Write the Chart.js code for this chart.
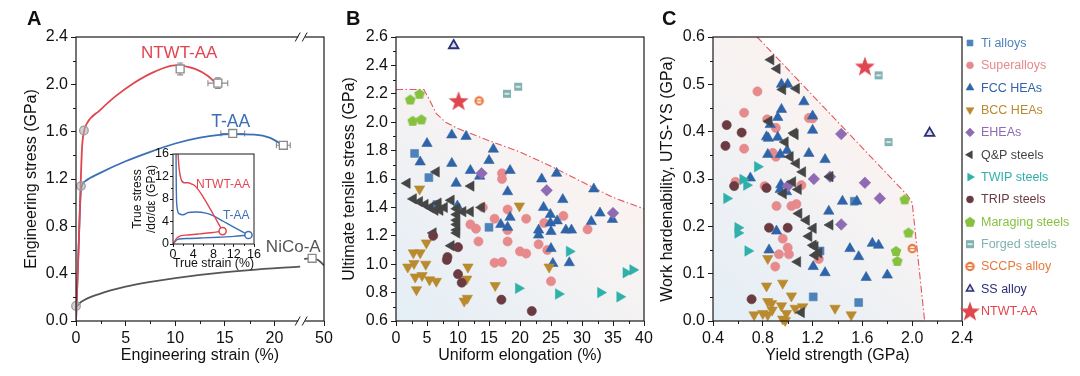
<!DOCTYPE html>
<html><head><meta charset="utf-8">
<script src="https://cdn.jsdelivr.net/npm/chart.js@4.4.1/dist/chart.umd.min.js"></script>
<style>
html,body{margin:0;padding:0;background:#fff}
#wrap{position:relative;width:1080px;height:376px;overflow:hidden;font-family:"Liberation Sans",Arial,sans-serif}
canvas{position:absolute;top:0}
.pl{position:absolute;font-weight:bold;font-size:20px;color:#111;line-height:20px}
</style></head><body>
<div id="wrap">
<canvas id="cA" width="340" height="376" style="left:0"></canvas>
<canvas id="cB" width="330" height="376" style="left:330px"></canvas>
<canvas id="cC" width="430" height="376" style="left:650px"></canvas>
<canvas id="cI" width="145" height="140" style="left:118px;top:140px"></canvas>
<div class="pl" style="left:27px;top:8px">A</div>
<div class="pl" style="left:346px;top:8px">B</div>
<div class="pl" style="left:662px;top:8px">C</div>
</div>
<script>
// ================= DATA =================
// Panel A (x in axis units; 25 on the axis is labelled 50 after the break)
const A_xTickVals = [0,5,10,15,20,25];
const A_xTickLabels = ['0','5','10','15','20','50'];
const A_yTicks = [0,0.4,0.8,1.2,1.6,2.0,2.4];
const A_ntwt = [[0,0],[0.3,0.7],[0.6,1.45],[0.8,1.6],[1.1,1.67],[2.4,1.78],[4,1.9],[5.8,2.01],[8,2.11],[10,2.16],[12,2.13],[13.3,2.07],[14.2,2.0]];
const A_taa = [[0,0],[0.25,0.6],[0.5,1.1],[0.9,1.18],[2.4,1.25],[5,1.35],[7.5,1.43],[10,1.5],[12.5,1.55],[15.5,1.58],[18,1.575],[19.5,1.55],[21,1.48]];
const A_nico1 = [[0,0],[0,0.12],[0.5,0.16],[2.4,0.23],[5,0.29],[7.5,0.33],[12.5,0.39],[17.5,0.43],[22.6,0.46]];
const A_nico2 = [[23.0,0.525],[23.8,0.53],[24.4,0.515],[25.0,0.47]];
const A_yieldPts = [[0.8,1.61],[0.5,1.14],[0,0.127]];
const A_endPts = [[10.5,2.13],[14.3,2.01],[15.8,1.585],[20.9,1.485],[23.8,0.53]];
const A_errX = [0.3,1.0,1.2,0.7,0.35];
const A_errY = [0.05,0.045,0.02,0.03,0.01];
// Inset
const I_ticks = [0,4,8,12,16];
const I_ntwtStress = [[0,0],[0.7,1.0],[1.5,1.45],[3,1.6],[5.3,1.8],[7.5,2.0],[9.8,2.3]];
const I_ntwtRate = [[1.0,16],[1.2,13.5],[1.6,11.5],[2.2,10.9],[3.0,10.9],[3.6,10.7],[4.5,10.2],[6,8.3],[8,5.2],[9.8,2.3]];
const I_taaStress = [[0,0],[0.7,0.7],[1.2,0.9],[3,0.98],[6,1.08],[9,1.2],[12,1.35],[14.9,1.6]];
const I_taaRate = [[0.6,16],[0.65,10],[0.8,6.5],[1.2,5.4],[2,5.2],[3,5.6],[4.5,5.7],[6.5,5.5],[8,5.0],[10,4.0],[12,3.0],[14.9,1.6]];
const I_ntwtNeck = [[9.8,2.3]];
const I_taaNeck = [[14.9,1.6]];

// Panel B: [uniform elongation %, UTS GPa]
const B_xTicks = [0,5,10,15,20,25,30,35,40];
const B_yTicks = [0.6,0.8,1.0,1.2,1.4,1.6,1.8,2.0,2.2,2.4,2.6];
const B_bound = [[0,2.23],[4.5,2.23],[5.5,2.15],[6.5,2.06],[8,2.0],[10,1.955],[15,1.87],[20,1.79],[25,1.69],[30,1.58],[35,1.47],[40,1.39]];
const B_ti = [[3.0,1.78],[5.3,1.61],[6.6,1.42],[15.0,1.26]];
const B_super = [[17.1,1.64],[17.1,1.60],[14.0,1.40],[18.0,1.385],[15.9,1.32],[12.0,1.28],[12.9,1.25],[18.0,1.24],[13.3,1.16],[18.0,1.16],[15.9,1.01],[17.1,1.015],[21.0,1.32],[20.0,1.09],[21.0,1.075],[23.9,1.29],[23.0,1.14],[24.4,1.10],[25.0,0.88],[27.0,1.34],[30.9,1.245]];
const B_fcc = [[5.0,1.85],[3.9,1.72],[9.0,1.91],[9.0,1.71],[9.7,1.57],[11.3,1.90],[12.0,1.66],[9.9,1.41],[13.5,1.62],[15.0,1.73],[15.7,1.81],[18.4,1.66],[18.0,1.51],[18.4,1.33],[16.9,1.28],[18.0,1.26],[23.5,1.60],[25.9,1.64],[26.9,1.455],[23.8,1.40],[24.9,1.35],[24.9,1.29],[26.0,1.305],[23.0,1.24],[23.0,1.205],[25.0,1.23],[27.4,1.24],[28.3,1.24],[32.9,1.36],[31.5,1.30],[34.9,1.315],[31.9,1.53],[25.0,1.11],[25.3,1.005],[27.95,1.01]];
const B_bcc = [[3.8,1.53],[4.9,1.15],[2.8,1.08],[3.9,1.08],[1.9,0.98],[2.9,1.005],[4.8,1.0],[3.1,0.91],[4.2,0.92],[5.4,0.89],[6.5,0.88],[3.3,0.82],[11.6,0.98],[11.4,0.895],[11.0,0.74],[11.5,0.76],[16.0,0.85],[19.9,1.41],[24.7,0.98]];
const B_ehea = [[13.8,1.64],[24.3,1.52],[35.0,1.36]];
const B_qp = [[1.8,1.57],[6.5,1.65],[12.1,1.55],[2.8,1.46],[3.8,1.44],[4.7,1.42],[5.5,1.40],[6.3,1.38],[7.1,1.38],[7.8,1.40],[6.8,1.43],[8.9,1.45],[9.8,1.39],[10.8,1.37],[12.0,1.37],[13.8,1.40],[9.8,1.35],[9.8,1.31],[9.8,1.28],[9.8,1.24],[9.8,1.22],[8.9,1.13],[6.0,1.22]];
const B_twip = [[27.95,1.09],[19.75,0.83],[26.2,0.79],[33.0,0.80],[36.1,0.77],[37.1,0.94],[38.2,0.96]];
const B_trip = [[6.0,1.20],[10.0,1.12],[8.3,1.05],[8.2,1.03],[10.0,0.93],[10.6,0.87],[17.0,0.75],[21.9,0.67]];
const B_mar = [[2.3,2.16],[3.8,2.20],[2.7,2.01],[4.1,2.02]];
const B_forged = [[17.9,2.20],[19.7,2.25]];
const B_sccp = [[13.4,2.15]];
const B_ss = [[9.3,2.54]];
const B_ntwt = [[10.1,2.15]];

// Panel C: [yield strength GPa, UTS-YS GPa]
const C_xTicks = [0.4,0.8,1.2,1.6,2.0,2.4];
const C_yTicks = [0,0.1,0.2,0.3,0.4,0.5,0.6];
const C_bound = [[0.755,0.6],[1.96,0.266],[2.0,0.25],[2.1,0]];
const C_fillEdge = [[0.4,0.6],[0.755,0.6],[1.96,0.266],[2.0,0.25],[2.1,0]];
const C_ti = [[1.205,0.051],[1.57,0.039],[1.535,0.253],[1.26,0.148]];
const C_super = [[0.757,0.485],[0.65,0.44],[0.65,0.364],[0.58,0.294],[0.835,0.426],[0.905,0.408],[0.88,0.355],[0.905,0.347],[0.815,0.285],[0.91,0.243],[1.03,0.243],[1.07,0.247],[1.11,0.287],[1.17,0.429],[1.20,0.428],[0.96,0.174],[1.00,0.155],[1.01,0.141],[0.93,0.141],[0.90,0.115],[1.25,0.131]];
const C_fcc = [[0.95,0.50],[1.00,0.50],[1.13,0.463],[0.95,0.447],[0.92,0.43],[1.20,0.433],[1.20,0.403],[0.83,0.389],[0.845,0.386],[0.86,0.415],[0.92,0.388],[0.995,0.36],[0.84,0.352],[0.94,0.352],[1.17,0.354],[1.30,0.341],[0.70,0.302],[0.945,0.288],[0.94,0.278],[0.99,0.273],[1.33,0.232],[1.44,0.253],[1.555,0.253],[0.91,0.19],[0.85,0.15],[1.205,0.115],[1.30,0.102],[1.50,0.153],[1.57,0.136],[1.68,0.164],[1.73,0.160],[1.63,0.092],[1.80,0.097]];
const C_bcc = [[0.84,0.132],[0.83,0.074],[0.96,0.08],[1.03,0.053],[0.84,0.041],[0.87,0.037],[0.73,0.013],[0.80,0.016],[0.84,0.013],[0.875,0.023],[0.95,0.032],[0.99,0.016],[0.96,0.004],[0.98,0.001],[1.06,0.027],[1.12,0.030],[1.38,0.027],[1.51,0.013]];
const C_ehea = [[1.43,0.395],[1.21,0.30],[1.34,0.305],[1.62,0.292],[1.74,0.259],[1.43,0.204],[1.00,0.285]];
const C_qp = [[0.865,0.552],[0.915,0.533],[0.96,0.489],[1.07,0.491],[0.85,0.422],[1.05,0.397],[1.06,0.394],[0.98,0.378],[1.02,0.347],[1.07,0.333],[1.12,0.315],[1.34,0.305],[1.04,0.294],[1.085,0.278],[0.965,0.269],[1.09,0.227],[1.15,0.213],[1.205,0.196],[1.34,0.203],[1.17,0.179],[1.205,0.16],[1.22,0.157],[1.22,0.139],[1.25,0.144],[1.08,0.125],[1.11,0.018]];
const C_twip = [[0.51,0.259],[0.60,0.197],[0.60,0.186],[0.64,0.299],[0.67,0.287],[0.757,0.326],[0.68,0.148]];
const C_trip = [[0.51,0.414],[0.50,0.37],[0.63,0.398],[0.57,0.285],[0.83,0.281],[0.85,0.197],[1.00,0.197],[0.71,0.046]];
const C_mar = [[1.94,0.257],[1.97,0.187],[1.87,0.148],[1.88,0.127]];
const C_forged = [[1.73,0.519],[1.81,0.378]];
const C_sccp = [[2.00,0.153]];
const C_ss = [[2.14,0.397]];
const C_ntwt = [[1.62,0.538]];

const groupKeys = ['ti','super','fcc','bcc','ehea','qp','twip','trip','mar','forged','sccp','ss','ntwt'];
const groupNames = ['Ti alloys','Superalloys','FCC HEAs','BCC HEAs','EHEAs','Q&P steels','TWIP steels','TRIP steels','Maraging steels','Forged steels','SCCPs alloy','SS alloy','NTWT-AA'];

// ================= STYLE =================
Chart.defaults.font.family = '"Liberation Sans", Arial, sans-serif';
Chart.defaults.color = '#111';
Chart.defaults.animation = false;
Chart.defaults.events = [];
Chart.defaults.plugins.legend.display = false;
Chart.defaults.plugins.tooltip.enabled = false;
const INK = '#1a1a1a';
const COL = {ti:'#4e83b9',super:'#e68a8c',fcc:'#2f64a8',bcc:'#b98a2e',ehea:'#8e6bb3',qp:'#454545',twip:'#2fb0aa',trip:'#6a3b40',mar:'#86c13f',forged:'#7fb2b0',sccp:'#e8773c',ss:'#2b2f78',ntwt:'#e0464f'};
const RED='#e0464f', BLUE='#3b6fb6', GRAY='#555';

function mk(w,h,f){const c=document.createElement('canvas');c.width=w;c.height=h;f(c.getContext('2d'),w,h);return c;}
const pentImg = mk(12,12,g=>{g.fillStyle=COL.mar;g.beginPath();for(let i=0;i<5;i++){const a=-Math.PI/2+i*2*Math.PI/5;g.lineTo(6+5.6*Math.cos(a),6.5+5.6*Math.sin(a));}g.closePath();g.fill();});
const starImg = mk(22,22,g=>{g.fillStyle=COL.ntwt;g.beginPath();for(let i=0;i<10;i++){const a=-Math.PI/2+i*Math.PI/5;const r=i%2?4.3:10.5;g.lineTo(11+r*Math.cos(a),11.8+r*Math.sin(a));}g.closePath();g.fill();});
const forgedImg = mk(10,10,g=>{g.fillStyle=COL.forged;g.fillRect(1,1,8,8);g.fillStyle='#fff';g.fillRect(2.5,4.3,5,1.4);});
const sccpImg = mk(11,11,g=>{g.fillStyle=COL.sccp;g.beginPath();g.arc(5.5,5.5,4.7,0,Math.PI*2);g.fill();g.fillStyle='#fff';g.beginPath();g.arc(5.5,5.5,2.6,0,Math.PI*2);g.fill();g.fillStyle=COL.sccp;g.fillRect(3,4.9,5,1.3);});

const STY = {
  ti:{pointStyle:'rect',pointRadius:5.6,pointRotation:0},
  super:{pointStyle:'circle',pointRadius:4.6,pointRotation:0},
  fcc:{pointStyle:'triangle',pointRadius:6,pointRotation:0},
  bcc:{pointStyle:'triangle',pointRadius:6,pointRotation:180},
  ehea:{pointStyle:'rectRot',pointRadius:5.8,pointRotation:0},
  qp:{pointStyle:'triangle',pointRadius:6,pointRotation:270},
  twip:{pointStyle:'triangle',pointRadius:6,pointRotation:90},
  trip:{pointStyle:'circle',pointRadius:4.6,pointRotation:0},
  mar:{pointStyle:pentImg,pointRadius:6,pointRotation:0},
  forged:{pointStyle:forgedImg,pointRadius:5,pointRotation:0},
  sccp:{pointStyle:sccpImg,pointRadius:5,pointRotation:0},
  ss:{pointStyle:'triangle',pointRadius:5.5,pointRotation:0,pointBackgroundColor:'#d9dbee',pointBorderWidth:1.8},
  ntwt:{pointStyle:starImg,pointRadius:10,pointRotation:0}
};
const P = a => a.map(([x,y])=>({x,y}));

function groupDatasets(src){
  // NTWT first so it draws on top
  return groupKeys.slice().reverse().map(k=>Object.assign({
    label:groupNames[groupKeys.indexOf(k)], data:P(src[k]), showLine:false, clip:false, order:0,
    pointBackgroundColor:COL[k], pointBorderColor:COL[k], pointBorderWidth:0.6
  }, STY[k]));
}

// ================= PLUGINS =================
const framePlugin = {
  id:'frame',
  afterDatasetsDraw(chart, args, o){
    const {ctx, chartArea:{left,right,top,bottom}} = chart;
    const xs = chart.scales.x, ys = chart.scales.y;
    ctx.save();
    ctx.strokeStyle = INK; ctx.lineWidth = o.lw || 1.2;
    ctx.strokeRect(left, top, right-left, bottom-top);
    ctx.lineWidth = 1;
    const L = o.minorLen || 3;
    (o.minorX||[]).forEach(v=>{const p=Math.round(xs.getPixelForValue(v))+0.5;ctx.beginPath();ctx.moveTo(p,bottom);ctx.lineTo(p,bottom+L);ctx.stroke();});
    (o.minorY||[]).forEach(v=>{const p=Math.round(ys.getPixelForValue(v))+0.5;ctx.beginPath();ctx.moveTo(left,p);ctx.lineTo(left-L,p);ctx.stroke();});
    if (o.breakAt!=null){
      const p = xs.getPixelForValue(o.breakAt);
      [top,bottom].forEach(y=>{
        ctx.fillStyle='#fff'; ctx.fillRect(p-3.5,y-2,7,4);
        ctx.beginPath(); ctx.moveTo(p-6.5,y+4.5); ctx.lineTo(p-1.5,y-4.5); ctx.moveTo(p+0.5,y+4.5); ctx.lineTo(p+5.5,y-4.5); ctx.stroke();
      });
    }
    (o.labels||[]).forEach(l=>{ctx.font=l.font;ctx.fillStyle=l.color;ctx.textAlign='center';ctx.textBaseline='middle';ctx.fillText(l.text, xs.getPixelForValue(l.x), ys.getPixelForValue(l.y));});
    ctx.restore();
  }
};
const errPlugin = {
  id:'err',
  beforeDatasetsDraw(chart, args, o){
    if(!o.pts) return;
    const {ctx} = chart; const xs=chart.scales.x, ys=chart.scales.y;
    ctx.save(); ctx.strokeStyle='#8a8a8a'; ctx.lineWidth=1.1;
    o.pts.forEach(([x,y],i)=>{
      const px=xs.getPixelForValue(x), py=ys.getPixelForValue(y);
      const x1=xs.getPixelForValue(x-o.ex[i]), x2=xs.getPixelForValue(x+o.ex[i]);
      const y1=ys.getPixelForValue(y-o.ey[i]), y2=ys.getPixelForValue(y+o.ey[i]);
      ctx.beginPath();
      ctx.moveTo(x1,py);ctx.lineTo(x2,py);ctx.moveTo(x1,py-3);ctx.lineTo(x1,py+3);ctx.moveTo(x2,py-3);ctx.lineTo(x2,py+3);
      ctx.moveTo(px,y1);ctx.lineTo(px,y2);ctx.moveTo(px-3,y1);ctx.lineTo(px+3,y1);ctx.moveTo(px-3,y2);ctx.lineTo(px+3,y2);
      ctx.stroke();
    });
    ctx.restore();
  }
};
const sideLegend = {
  id:'sideLegend',
  afterDraw(chart, args, o){
    if(!o.items) return;
    const ctx = chart.ctx;
    o.items.forEach((it,i)=>{
      const y = o.y0 + i*o.dy;
      ctx.save();
      ctx.fillStyle = it.bg || it.color; ctx.strokeStyle = it.color; ctx.lineWidth = it.bw || 0.6;
      Chart.helpers.drawPoint(ctx,{pointStyle:it.style,rotation:it.rot||0,radius:it.r,borderWidth:it.bw||0.6},o.x,y);
      ctx.font = o.font; ctx.fillStyle = it.color; ctx.textBaseline='middle'; ctx.textAlign='left';
      ctx.fillText(it.label, o.tx, y+0.5);
      ctx.restore();
    });
  }
};

function gradFill(c){
  const ca = c.chart.chartArea; if(!ca) return 'rgba(0,0,0,0)';
  const g = c.chart.ctx.createLinearGradient(ca.left, ca.bottom, ca.right, ca.top);
  g.addColorStop(0,'#e3eef6'); g.addColorStop(0.55,'#f8f3f2'); g.addColorStop(1,'#fdeee8');
  return g;
}
function axis(o){
  return Object.assign({
    type:'linear',
    grid:{drawOnChartArea:false, tickLength:5, tickColor:INK, tickWidth:1},
    border:{display:false},
    ticks:{font:{size:16}, color:'#111', padding:3, maxRotation:0, autoSkip:false},
  }, o);
}
function setTicks(vals){ return s => { s.ticks = vals.map(v=>({value:v})); }; }
const range = (a,b,s)=>{const r=[];for(let v=a;v<=b+1e-9;v+=s)r.push(+v.toFixed(4));return r;};

// ================= PANEL A =================
new Chart(document.getElementById('cA'), {
  type:'scatter',
  data:{datasets:[
    {data:P(A_endPts), showLine:false, clip:false, pointStyle:'rect', pointRadius:5.6, pointBackgroundColor:'#fff', pointBorderColor:'#8a8a8a', pointBorderWidth:1.3, order:0},
    {data:P(A_yieldPts), showLine:false, clip:false, pointStyle:'circle', pointRadius:4.3, pointBackgroundColor:'rgba(175,175,175,0.55)', pointBorderColor:'#999', pointBorderWidth:1.2, order:1},
    {data:P(A_ntwt), showLine:true, borderColor:RED, borderWidth:1.8, pointRadius:0, cubicInterpolationMode:'monotone', order:2},
    {data:P(A_taa), showLine:true, borderColor:BLUE, borderWidth:1.8, pointRadius:0, cubicInterpolationMode:'monotone', order:3},
    {data:P(A_nico1), showLine:true, borderColor:GRAY, borderWidth:1.8, pointRadius:0, cubicInterpolationMode:'monotone', order:4},
    {data:P(A_nico2), showLine:true, borderColor:GRAY, borderWidth:1.8, pointRadius:0, cubicInterpolationMode:'monotone', order:4}
  ]},
  options:{
    responsive:false, devicePixelRatio:1,
    layout:{padding:{left:0,top:37,right:16,bottom:0}},
    scales:{
      x: axis({min:0,max:25, afterBuildTicks:setTicks(A_xTickVals), afterFit:s=>{s.height=55;},
        ticks:{font:{size:16},color:'#111',padding:3,maxRotation:0,autoSkip:false,callback:(v,i)=>A_xTickLabels[i]},
        title:{display:true,text:'Engineering strain (%)',font:{size:16},color:'#111',padding:{top:0,bottom:11}}}),
      y: axis({min:0,max:2.4, afterBuildTicks:setTicks(A_yTicks), afterFit:s=>{s.width=76;},
        ticks:{font:{size:16},color:'#111',padding:3,callback:v=>v.toFixed(1)},
        title:{display:true,text:'Engineering stress (GPa)',font:{size:16},color:'#111',padding:{top:22,bottom:0}}})
    },
    plugins:{
      frame:{breakAt:22.75, minorX:[2.5,7.5,12.5,17.5], minorY:[0.2,0.6,1.0,1.4,1.8,2.2],
        labels:[{text:'NTWT-AA',x:10.4,y:2.265,font:'17px "Liberation Sans", Arial',color:RED},
                {text:'T-AA',x:15.6,y:1.68,font:'17.5px "Liberation Sans", Arial',color:BLUE},
                {text:'NiCo-A',x:21.9,y:0.625,font:'17px "Liberation Sans", Arial',color:GRAY}]},
      err:{pts:A_endPts, ex:A_errX, ey:A_errY}
    }
  },
  plugins:[errPlugin, framePlugin]
});

// ================= INSET =================
new Chart(document.getElementById('cI'), {
  type:'scatter',
  data:{datasets:[
    {data:P(I_ntwtNeck), showLine:false, clip:false, pointRadius:3.6, pointBackgroundColor:'#fff', pointBorderColor:RED, pointBorderWidth:1.5, order:0},
    {data:P(I_taaNeck), showLine:false, clip:false, pointRadius:3.6, pointBackgroundColor:'#fff', pointBorderColor:BLUE, pointBorderWidth:1.5, order:0},
    {data:P(I_ntwtStress), showLine:true, borderColor:RED, borderWidth:1.4, pointRadius:0, cubicInterpolationMode:'monotone', order:1},
    {data:P(I_ntwtRate), showLine:true, borderColor:RED, borderWidth:1.4, pointRadius:0, cubicInterpolationMode:'monotone', order:1},
    {data:P(I_taaStress), showLine:true, borderColor:BLUE, borderWidth:1.4, pointRadius:0, cubicInterpolationMode:'monotone', order:1},
    {data:P(I_taaRate), showLine:true, borderColor:BLUE, borderWidth:1.4, pointRadius:0, cubicInterpolationMode:'monotone', order:1}
  ]},
  options:{
    responsive:false, devicePixelRatio:1,
    layout:{padding:{left:0,top:14,right:9,bottom:0}},
    scales:{
      x: axis({min:0,max:16, afterBuildTicks:setTicks(I_ticks), afterFit:s=>{s.height=36;},
        grid:{drawOnChartArea:false,tickLength:3,tickColor:INK},
        ticks:{font:{size:12.5},color:'#111',padding:0,maxRotation:0,autoSkip:false},
        title:{display:true,text:'True strain (%)',font:{size:12.5},color:'#111',padding:{top:0,bottom:9}}}),
      y: axis({min:0,max:16, afterBuildTicks:setTicks(I_ticks), afterFit:s=>{s.width=55;},
        grid:{drawOnChartArea:false,tickLength:3,tickColor:INK},
        ticks:{font:{size:12.5},color:'#111',padding:1},
        title:{display:true,text:['True stress','/dσ/dε (GPa)'],font:{size:12},color:'#111',padding:{top:12,bottom:0}}})
    },
    plugins:{
      frame:{lw:1, minorLen:2, minorX:[2,6,10,14], minorY:[2,6,10,14],
        labels:[{text:'NTWT-AA',x:9.9,y:10.5,font:'12px "Liberation Sans", Arial',color:RED},
                {text:'T-AA',x:12.5,y:5.0,font:'12px "Liberation Sans", Arial',color:BLUE}]}
    }
  },
  plugins:[framePlugin]
});

// ================= PANEL B =================
const B_src = {ti:B_ti,super:B_super,fcc:B_fcc,bcc:B_bcc,ehea:B_ehea,qp:B_qp,twip:B_twip,trip:B_trip,mar:B_mar,forged:B_forged,sccp:B_sccp,ss:B_ss,ntwt:B_ntwt};
new Chart(document.getElementById('cB'), {
  type:'scatter',
  data:{datasets:[
    ...groupDatasets(B_src),
    {data:P(B_bound), showLine:true, borderColor:'#e4575c', borderWidth:1.1, borderDash:[7,2.5,1.5,2.5], pointRadius:0, order:9},
    {data:P(B_bound), showLine:true, borderColor:'rgba(0,0,0,0)', borderWidth:0.01, pointRadius:0, fill:'start', backgroundColor:gradFill, order:10}
  ]},
  options:{
    responsive:false, devicePixelRatio:1,
    layout:{padding:{left:0,top:37,right:16,bottom:0}},
    scales:{
      x: axis({min:0,max:40, afterBuildTicks:setTicks(B_xTicks), afterFit:s=>{s.height=55;},
        title:{display:true,text:'Uniform elongation (%)',font:{size:16},color:'#111',padding:{top:0,bottom:11}}}),
      y: axis({min:0.6,max:2.6, afterBuildTicks:setTicks(B_yTicks), afterFit:s=>{s.width=66;},
        ticks:{font:{size:16},color:'#111',padding:3,callback:v=>v.toFixed(1)},
        title:{display:true,text:'Ultimate tensile stress (GPa)',font:{size:16},color:'#111',padding:{top:10,bottom:0}}})
    },
    plugins:{frame:{minorX:range(2.5,37.5,5), minorY:range(0.7,2.5,0.2)}}
  },
  plugins:[framePlugin]
});

// ================= PANEL C =================
const C_src = {ti:C_ti,super:C_super,fcc:C_fcc,bcc:C_bcc,ehea:C_ehea,qp:C_qp,twip:C_twip,trip:C_trip,mar:C_mar,forged:C_forged,sccp:C_sccp,ss:C_ss,ntwt:C_ntwt};
const legendItems = groupKeys.map((k,i)=>({
  label:groupNames[i], color:COL[k], style:STY[k].pointStyle, rot:STY[k].pointRotation,
  r: typeof STY[k].pointStyle==='string' ? STY[k].pointRadius*0.75 : 5,
  bg: k==='ss' ? '#d9dbee' : COL[k], bw: k==='ss' ? 1.5 : 0.6
}));
new Chart(document.getElementById('cC'), {
  type:'scatter',
  data:{datasets:[
    ...groupDatasets(C_src),
    {data:P(C_bound), showLine:true, borderColor:'#e4575c', borderWidth:1.1, borderDash:[7,2.5,1.5,2.5], pointRadius:0, order:9},
    {data:P(C_fillEdge), showLine:true, borderColor:'rgba(0,0,0,0)', borderWidth:0.01, pointRadius:0, fill:'start', backgroundColor:gradFill, order:10}
  ]},
  options:{
    responsive:false, devicePixelRatio:1,
    layout:{padding:{left:0,top:37,right:118,bottom:0}},
    scales:{
      x: axis({min:0.4,max:2.4, afterBuildTicks:setTicks(C_xTicks), afterFit:s=>{s.height=55;},
        ticks:{font:{size:16},color:'#111',padding:3,maxRotation:0,autoSkip:false,callback:v=>v.toFixed(1)},
        title:{display:true,text:'Yield strength (GPa)',font:{size:16},color:'#111',padding:{top:0,bottom:11}}}),
      y: axis({min:0,max:0.6, afterBuildTicks:setTicks(C_yTicks), afterFit:s=>{s.width=63;},
        ticks:{font:{size:16},color:'#111',padding:3,callback:v=>v.toFixed(1)},
        title:{display:true,text:'Work hardenability, UTS-YS (GPa)',font:{size:16},color:'#111',padding:{top:8,bottom:0}}})
    },
    plugins:{
      frame:{minorX:range(0.6,2.2,0.4), minorY:range(0.05,0.55,0.1)},
      sideLegend:{items:legendItems, x:320, tx:331, y0:43, dy:22.35, font:'12.5px "Liberation Sans", Arial'}
    }
  },
  plugins:[framePlugin, sideLegend]
});
</script>
</body></html>
